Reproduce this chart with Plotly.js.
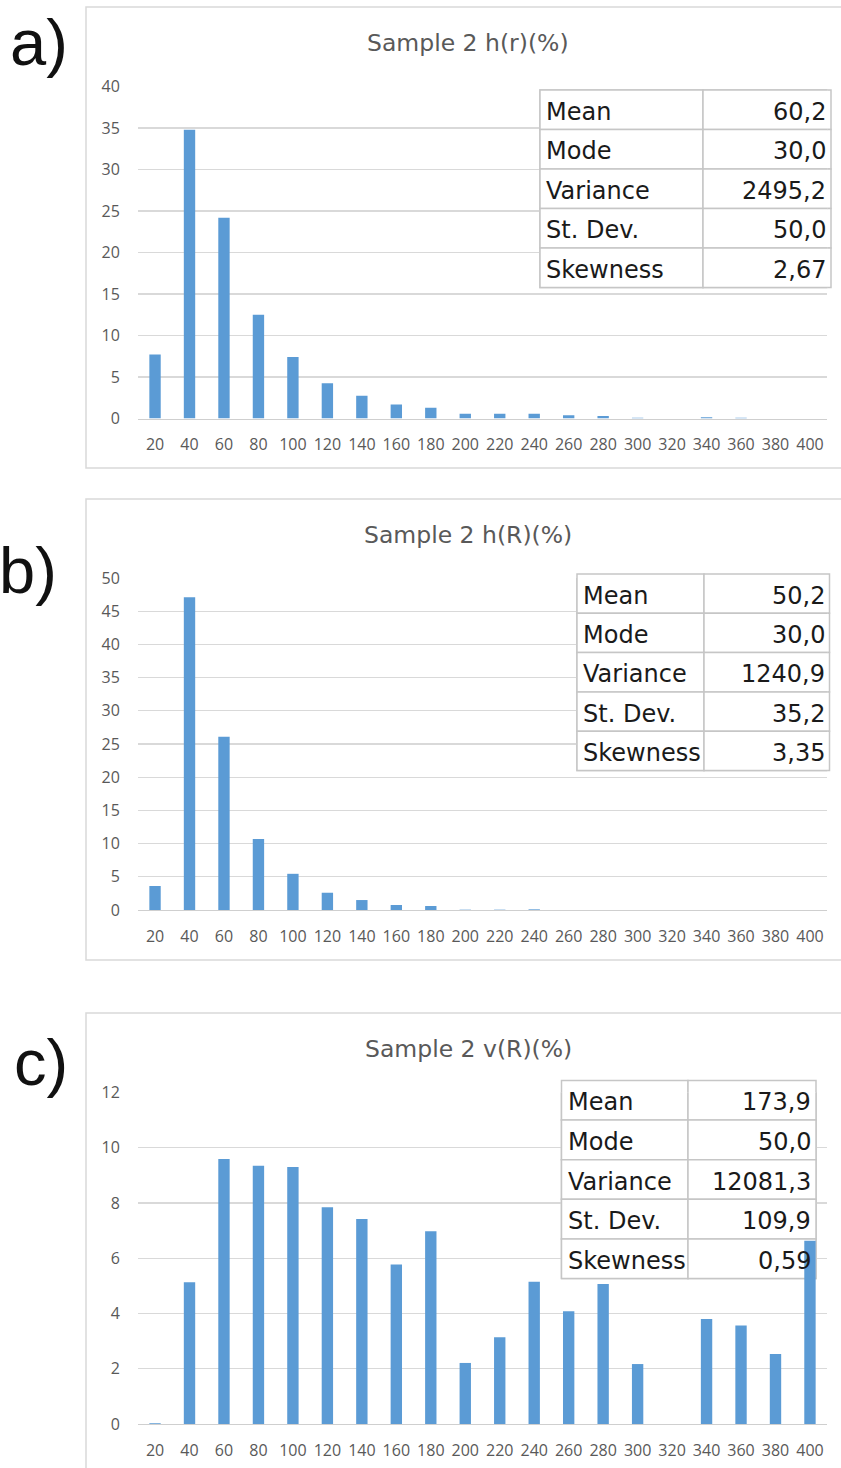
<!DOCTYPE html>
<html>
<head>
<meta charset="utf-8">
<script src="https://cdn.plot.ly/plotly-3.0.1.min.js"></script>
<style>html,body{margin:0;padding:0;background:#fff;}</style>
</head>
<body>
<div id="chart" style="width:841px;height:1468px;"></div>
<script>
// ---- data ----
const categories = ['20','40','60','80','100','120','140','160','180','200','220','240','260','280','300','320','340','360','380','400'];
const hrValues = [7.7, 34.8, 24.2, 12.5, 7.4, 4.25, 2.75, 1.7, 1.3, 0.56, 0.56, 0.56, 0.4, 0.3, 0.08, 0, 0.15, 0.08, 0, 0];
const hRValues = [3.6, 47.1, 26.1, 10.7, 5.45, 2.6, 1.5, 0.75, 0.6, 0.05, 0.05, 0.1, 0, 0, 0, 0, 0, 0, 0, 0];
const vRValues = [0.03, 5.13, 9.59, 9.35, 9.3, 7.85, 7.42, 5.77, 6.98, 2.21, 3.14, 5.15, 4.08, 5.07, 2.17, 0, 3.8, 3.57, 2.53, 6.63];
const statLabels = ['Mean', 'Mode', 'Variance', 'St. Dev.', 'Skewness'];
const statsA = ['60,2', '30,0', '2495,2', '50,0', '2,67'];
const statsB = ['50,2', '30,0', '1240,9', '35,2', '3,35'];
const statsC = ['173,9', '50,0', '12081,3', '109,9', '0,59'];
const titles = ['Sample 2 h(r)(%)', 'Sample 2 h(R)(%)', 'Sample 2 v(R)(%)'];
const panelLabels = ['a)', 'b)', 'c)'];
const yMax = [40, 50, 12];
const yStep = [5, 5, 2];

// ---- layout geometry (pixels) ----
const W = 841, H = 1468;
const xL = 137.8, xR = 827.2;
const series = [hrValues, hRValues, vRValues];
const stats = [statsA, statsB, statsC];
const panels = [
  {top: 86.5, bottom: 418.5, fTop: 7, fBottom: 468, titleY: 43, labX: 39, labY: 42,
   tab: {l: 540, m: 703, r: 831, t: 90, b: 287.5}},
  {top: 578, bottom: 910, fTop: 499, fBottom: 960, titleY: 535, labX: 28, labY: 571,
   tab: {l: 577, m: 704, r: 829.5, t: 574, b: 770.5}},
  {top: 1092.5, bottom: 1424, fTop: 1013, fBottom: 1470, titleY: 1049, labX: 41, labY: 1062,
   tab: {l: 561.5, m: 688, r: 816, t: 1080.5, b: 1278.5}}
];
const fx = px => px / W;
const fy = py => 1 - py / H;

const BAR = '#5b9bd5';
const GRID = '#d9d9d9';
const TICK = '#595959';
const TABLINE = '#c6c6c6';
const TFONT = 'DejaVu Sans, sans-serif';

const data = [];
const layout = {
  width: W, height: H,
  margin: {l: 0, r: 0, t: 0, b: 0},
  paper_bgcolor: '#ffffff',
  plot_bgcolor: 'rgba(0,0,0,0)',
  showlegend: false,
  bargap: 0.67,
  font: {family: 'Open Sans, sans-serif', color: TICK},
  shapes: [],
  annotations: []
};

panels.forEach((p, i) => {
  const sfx = i === 0 ? '' : String(i + 1);
  const xa = 'x' + sfx, ya = 'y' + sfx;
  data.push({
    type: 'bar', x: categories, y: series[i], xaxis: xa, yaxis: ya,
    marker: {color: BAR, line: {width: 0}}, hoverinfo: 'skip'
  });
  layout['xaxis' + sfx] = {
    domain: [fx(xL), fx(xR)], anchor: ya, type: 'category', range: [-0.5, 19.5],
    showgrid: false, showline: true, linecolor: '#cfcfcf', linewidth: 1.3,
    ticks: '', tickangle: 0, ticklabelstandoff: 11,
    tickfont: {family: 'Open Sans, sans-serif', size: 16, color: TICK}, fixedrange: true
  };
  layout['yaxis' + sfx] = {
    domain: [fy(p.bottom), fy(p.top)], anchor: xa, range: [0, yMax[i]],
    tick0: 0, dtick: yStep[i], showgrid: true, gridcolor: GRID, gridwidth: 1.3,
    zeroline: false, showline: false, ticks: '', ticklabelstandoff: 17,
    tickfont: {family: 'Open Sans, sans-serif', size: 16, color: TICK}, fixedrange: true
  };
  // panel frame
  layout.shapes.push({
    type: 'rect', xref: 'paper', yref: 'paper', layer: 'below',
    x0: fx(86), x1: 1.02, y0: fy(p.fBottom), y1: fy(p.fTop),
    fillcolor: '#ffffff', line: {color: GRID, width: 1.5}
  });
  // stats table: white cells between gridlines and bars (clipped to plot area),
  // plus the same borders on paper below, visible where the table leaves the plot area
  const t = p.tab;
  const dx = px => (px - xL) / (xR - xL) * categories.length - 0.5;
  const dy = py => yMax[i] * (p.bottom - py) / (p.bottom - p.top);
  const rowH = (t.b - t.t) / statLabels.length;
  statLabels.forEach((lab, r) => {
    const y0 = t.t + r * rowH, y1 = y0 + rowH;
    [[t.l, t.m], [t.m, t.r]].forEach(([c0, c1]) => {
      layout.shapes.push({
        type: 'rect', xref: 'paper', yref: 'paper', layer: 'below',
        x0: fx(c0), x1: fx(c1), y0: fy(y1), y1: fy(y0),
        fillcolor: '#ffffff', line: {color: TABLINE, width: 1.5}
      });
      layout.shapes.push({
        type: 'rect', xref: xa, yref: ya, layer: 'between',
        x0: dx(c0), x1: dx(c1), y0: dy(y1), y1: dy(y0),
        fillcolor: '#ffffff', line: {color: TABLINE, width: 1.5}
      });
    });
    const cy = y0 + rowH / 2 + 2;
    layout.annotations.push({
      xref: 'paper', yref: 'paper', x: fx(t.l + 4), y: fy(cy), xanchor: 'left', yanchor: 'middle',
      text: lab, showarrow: false, font: {family: TFONT, size: 24, color: '#1a1a1a'}
    });
    layout.annotations.push({
      xref: 'paper', yref: 'paper', x: fx(t.r - 3), y: fy(cy), xanchor: 'right', yanchor: 'middle',
      text: stats[i][r], showarrow: false, font: {family: TFONT, size: 24, color: '#1a1a1a'}
    });
  });
  // title
  layout.annotations.push({
    xref: 'paper', yref: 'paper', x: fx(468), y: fy(p.titleY), xanchor: 'center', yanchor: 'middle',
    text: titles[i], showarrow: false, font: {family: TFONT, size: 23.5, color: TICK}
  });
  // panel label
  layout.annotations.push({
    xref: 'paper', yref: 'paper', x: fx(p.labX), y: fy(p.labY), xanchor: 'center', yanchor: 'middle',
    text: panelLabels[i], showarrow: false, font: {family: 'Liberation Sans, Arial, sans-serif', size: 65, color: '#111111'}
  });
});

Plotly.newPlot('chart', data, layout, {displayModeBar: false, staticPlot: true});
</script>
</body>
</html>
